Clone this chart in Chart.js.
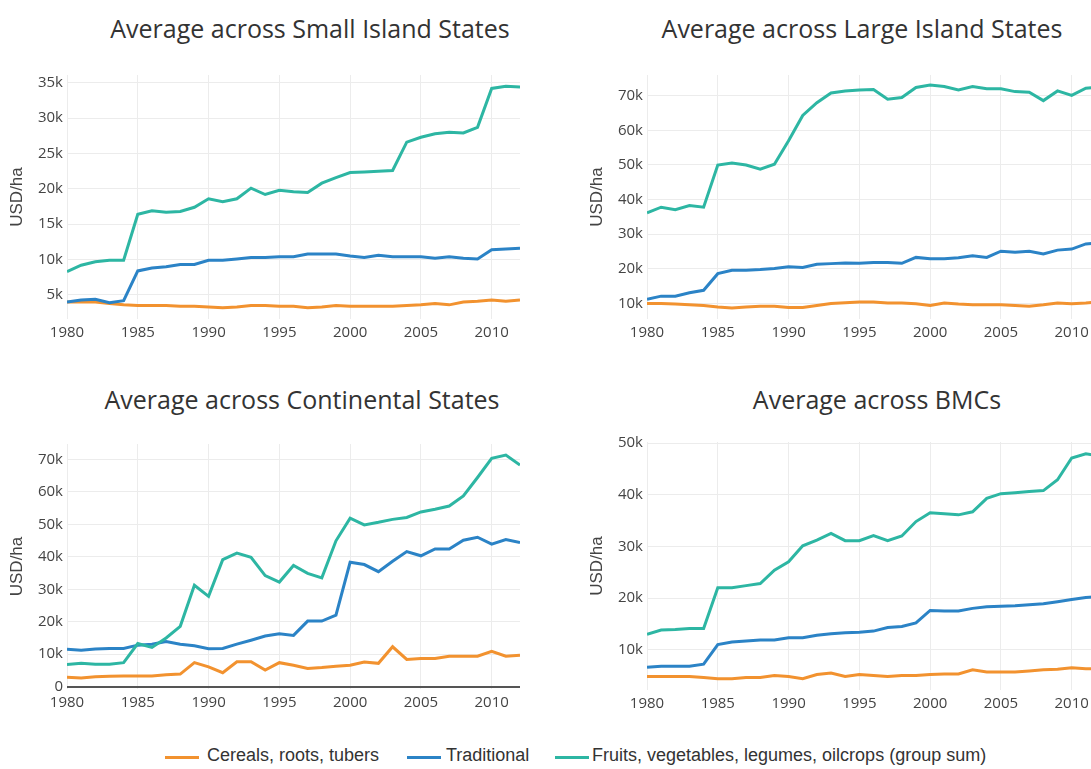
<!DOCTYPE html>
<html lang="en">
<head>
    <meta charset="UTF-8">
    <title>Value per hectare by crop group</title>
    <script src="https://cdn.jsdelivr.net/npm/chart.js"></script>
    <style>
        body {
            margin: 0;
            width: 1091px;
            height: 769px;
            overflow: hidden;
            background: #fff;
            position: relative;
            font-family: "Open Sans", Arial, sans-serif;
        }
        .title {
            position: absolute;
            transform: translateX(-50%);
            white-space: nowrap;
            font-size: 25px;
            line-height: 34px;
            color: #333;
        }
        canvas {
            position: absolute;
        }
        #small { left: 0; top: 62px; }
        #large { left: 580px; top: 62px; }
        #cont { left: 0; top: 431px; }
        #bmc { left: 580px; top: 429px; }
        .legend-item {
            position: absolute;
            top: 745px;
            font-family: "Liberation Sans", Arial, sans-serif;
            font-size: 18px;
            color: #333;
            white-space: nowrap;
        }
        .swatch {
            position: absolute;
            top: 756px;
            width: 34px;
            height: 3px;
        }
    </style>
</head>
<body>
    <div class="title" style="left:310px; top:11px">Average across Small Island States</div>
    <div class="title" style="left:862px; top:11px">Average across Large Island States</div>
    <div class="title" style="left:302px; top:382px">Average across Continental States</div>
    <div class="title" style="left:877px; top:382px">Average across BMCs</div>

    <canvas id="small" width="520" height="287"></canvas>
    <canvas id="large" width="520" height="287"></canvas>
    <canvas id="cont" width="520" height="288"></canvas>
    <canvas id="bmc" width="520" height="291"></canvas>

    <div class="swatch" style="left:165px; background:#f2922f"></div>
    <div class="legend-item" style="left:207px">Cereals, roots, tubers</div>
    <div class="swatch" style="left:407px; background:#2b83c6"></div>
    <div class="legend-item" style="left:446px">Traditional</div>
    <div class="swatch" style="left:555px; background:#2db6a3"></div>
    <div class="legend-item" style="left:592px">Fruits, vegetables, legumes, oilcrops (group sum)</div>

    <script>
        // years on the x axis
        const years = [1980, 1981, 1982, 1983, 1984, 1985, 1986, 1987, 1988, 1989,
                       1990, 1991, 1992, 1993, 1994, 1995, 1996, 1997, 1998, 1999,
                       2000, 2001, 2002, 2003, 2004, 2005, 2006, 2007, 2008, 2009,
                       2010, 2011, 2012];
        const yearTicks = [1980, 1985, 1990, 1995, 2000, 2005, 2010];

        const seriesNames = ['Cereals, roots, tubers', 'Traditional', 'Fruits, vegetables, legumes, oilcrops (group sum)'];
        const seriesColors = ['#f2922f', '#2b83c6', '#2db6a3'];

        // values in thousand USD/ha
        const smallCereals = [4.0, 4.0, 4.0, 3.8, 3.6, 3.5, 3.5, 3.5, 3.4, 3.4,
                              3.3, 3.2, 3.3, 3.5, 3.5, 3.4, 3.4, 3.2, 3.3, 3.5,
                              3.4, 3.4, 3.4, 3.4, 3.5, 3.6, 3.8, 3.6, 4.0, 4.1,
                              4.3, 4.1, 4.3];
        const smallTraditional = [4.0, 4.3, 4.4, 3.9, 4.2, 8.4, 8.8, 9.0, 9.3, 9.3,
                                  9.9, 9.9, 10.1, 10.3, 10.3, 10.4, 10.4, 10.8, 10.8, 10.8,
                                  10.5, 10.3, 10.6, 10.4, 10.4, 10.4, 10.2, 10.4, 10.2, 10.1,
                                  11.4, 11.5, 11.6];
        const smallFruits = [8.3, 9.2, 9.7, 9.9, 9.9, 16.4, 16.9, 16.7, 16.8, 17.4,
                             18.6, 18.2, 18.6, 20.1, 19.2, 19.8, 19.6, 19.5, 20.8, 21.6,
                             22.3, 22.4, 22.5, 22.6, 26.6, 27.3, 27.8, 28.0, 27.9, 28.7,
                             34.2, 34.5, 34.4];
        const smallTicks = [5, 10, 15, 20, 25, 30, 35];

        const largeCereals = [10.0, 10.0, 9.8, 9.6, 9.4, 9.0, 8.7, 9.0, 9.2, 9.2,
                              8.8, 8.8, 9.4, 10.0, 10.2, 10.4, 10.4, 10.1, 10.1, 9.9,
                              9.4, 10.1, 9.8, 9.6, 9.6, 9.6, 9.4, 9.2, 9.6, 10.1,
                              9.9, 10.1, 10.5];
        const largeTraditional = [11.2, 12.1, 12.1, 13.1, 13.8, 18.6, 19.6, 19.6, 19.8, 20.1,
                                  20.6, 20.4, 21.3, 21.5, 21.7, 21.6, 21.8, 21.8, 21.6, 23.3,
                                  22.9, 22.9, 23.2, 23.8, 23.3, 25.1, 24.8, 25.1, 24.3, 25.4,
                                  25.7, 27.2, 27.5];
        const largeFruits = [36.2, 37.8, 37.1, 38.3, 37.8, 50.0, 50.6, 50.0, 48.8, 50.2,
                             57.0, 64.3, 68.0, 70.8, 71.4, 71.7, 71.8, 69.0, 69.5, 72.4,
                             73.1, 72.7, 71.7, 72.7, 72.0, 72.0, 71.2, 71.0, 68.6, 71.4,
                             70.1, 72.2, 72.5];
        const largeTicks = [10, 20, 30, 40, 50, 60, 70];

        const contCereals = [2.9, 2.7, 3.1, 3.2, 3.3, 3.3, 3.3, 3.7, 3.9, 7.4,
                             6.1, 4.3, 7.7, 7.7, 5.1, 7.4, 6.6, 5.6, 5.9, 6.3,
                             6.6, 7.6, 7.2, 12.3, 8.4, 8.7, 8.7, 9.4, 9.4, 9.4,
                             10.9, 9.4, 9.7];
        const contTraditional = [11.5, 11.2, 11.6, 11.8, 11.8, 12.8, 13.1, 13.9, 13.1, 12.6,
                                 11.7, 11.8, 13.1, 14.3, 15.6, 16.3, 15.8, 20.2, 20.2, 22.0,
                                 38.3, 37.6, 35.4, 38.6, 41.6, 40.3, 42.4, 42.4, 45.1, 46.0,
                                 43.9, 45.3, 44.4];
        const contFruits = [6.8, 7.2, 6.9, 6.9, 7.4, 13.3, 12.1, 15.0, 18.6, 31.2,
                            27.8, 39.1, 41.1, 39.8, 34.2, 32.2, 37.3, 34.9, 33.5, 44.9,
                            51.9, 49.8, 50.6, 51.5, 52.1, 53.8, 54.6, 55.6, 58.7, 64.4,
                            70.3, 71.3, 68.2];
        const contTicks = [0, 10, 20, 30, 40, 50, 60, 70];

        const bmcCereals = [4.8, 4.8, 4.8, 4.8, 4.6, 4.4, 4.4, 4.6, 4.6, 5.0,
                            4.8, 4.4, 5.2, 5.5, 4.8, 5.2, 5.0, 4.8, 5.0, 5.0,
                            5.2, 5.3, 5.3, 6.1, 5.7, 5.7, 5.7, 5.9, 6.1, 6.2,
                            6.5, 6.3, 6.3];
        const bmcTraditional = [6.6, 6.8, 6.8, 6.8, 7.2, 11.0, 11.5, 11.7, 11.9, 11.9,
                                12.3, 12.3, 12.8, 13.1, 13.3, 13.4, 13.6, 14.3, 14.5, 15.2,
                                17.6, 17.5, 17.5, 18.0, 18.3, 18.4, 18.5, 18.7, 18.9, 19.3,
                                19.7, 20.1, 20.3];
        const bmcFruits = [13.0, 13.8, 13.9, 14.1, 14.1, 22.0, 22.0, 22.4, 22.8, 25.4,
                           27.0, 30.1, 31.2, 32.5, 31.1, 31.1, 32.1, 31.1, 32.0, 34.8,
                           36.5, 36.3, 36.1, 36.7, 39.3, 40.2, 40.4, 40.6, 40.8, 42.9,
                           47.1, 47.9, 47.5];
        const bmcTicks = [10, 20, 30, 40, 50];

        const tickFont = { family: '"Open Sans", Arial, sans-serif', size: 15 };

        function makeChart(id, series, yMin, yMax, yTicks) {
            const datasets = series.map((vals, i) => ({
                label: seriesNames[i],
                data: vals.map((v, j) => ({ x: years[j], y: v })),
                borderColor: seriesColors[i],
                borderWidth: 3,
                pointRadius: 0,
                tension: 0,
                order: 3 - i   // fruits drawn on top
            }));

            new Chart(document.getElementById(id), {
                type: 'line',
                data: { datasets },
                options: {
                    responsive: false,
                    animation: false,
                    layout: { padding: { top: 12, right: 0, bottom: 0, left: 0 }, autoPadding: false },
                    plugins: { legend: { display: false }, tooltip: { enabled: false } },
                    scales: {
                        x: {
                            type: 'linear',
                            min: 1980,
                            max: 2012,
                            afterBuildTicks: axis => { axis.ticks = yearTicks.map(v => ({ value: v })); },
                            afterFit: axis => { axis.height = 30; },
                            border: { display: false },
                            grid: { color: '#ececec', drawTicks: false },
                            ticks: {
                                maxRotation: 0,
                                autoSkip: false,
                                padding: 5,
                                color: '#444',
                                font: tickFont,
                                callback: v => String(v)
                            }
                        },
                        y: {
                            min: yMin,
                            max: yMax,
                            afterBuildTicks: axis => { axis.ticks = yTicks.map(v => ({ value: v })); },
                            afterFit: axis => { axis.width = 67; },
                            border: { display: false },
                            grid: {
                                drawTicks: false,
                                color: c => c.tick && c.tick.value === 0 ? '#555' : '#ececec',
                                lineWidth: c => c.tick && c.tick.value === 0 ? 2 : 1
                            },
                            title: {
                                display: true,
                                text: 'USD/ha',
                                color: '#444',
                                font: { family: '"Liberation Sans", Arial, sans-serif', size: 17 },
                                padding: { top: 7, bottom: 0 }
                            },
                            ticks: {
                                padding: 4,
                                color: '#444',
                                font: tickFont,
                                callback: v => v === 0 ? '0' : v + 'k'
                            }
                        }
                    }
                }
            });
        }

        makeChart('small', [smallCereals, smallTraditional, smallFruits], 1.6, 36.1, smallTicks);
        makeChart('large', [largeCereals, largeTraditional, largeFruits], 5.5, 76, largeTicks);
        makeChart('cont', [contCereals, contTraditional, contFruits], -0.7, 74.7, contTicks);
        makeChart('bmc', [bmcCereals, bmcTraditional, bmcFruits], 2.2, 50.2, bmcTicks);
    </script>
</body>
</html>
